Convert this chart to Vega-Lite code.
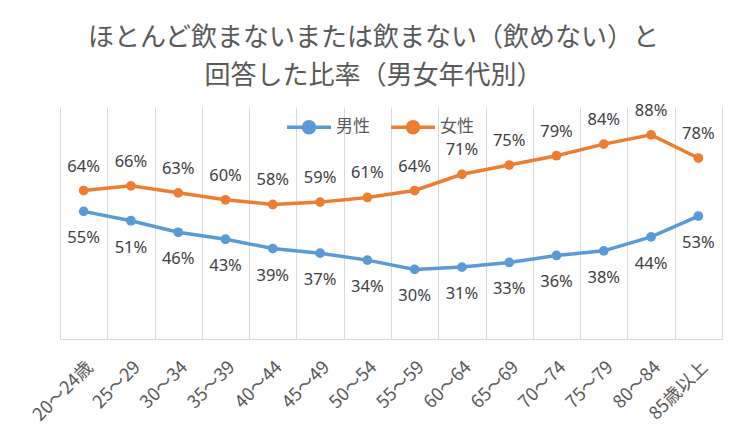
{
  "$schema": "https://vega.github.io/schema/vega-lite/v6.json",
  "width": 662,
  "height": 232,
  "autosize": {"type": "none"},
  "padding": {"left": 60, "top": 107, "right": 25, "bottom": 103},
  "background": "#ffffff",
  "config": {
    "view": {"stroke": null},
    "font": "Noto Sans CJK JP"
  },
  "title": {
    "text": ["ほとんど飲まないまたは飲まない（飲めない）と", "回答した比率（男女年代別）"],
    "font": "Noto Sans CJK JP",
    "fontSize": 26,
    "fontWeight": "normal",
    "color": "#595959",
    "anchor": "middle",
    "frame": "group",
    "dx": -17.5,
    "offset": 14,
    "lineHeight": 38
  },
  "data": {
    "values": [
      {"age": "20～24歳", "series": "男性", "rate": 0.55},
      {"age": "25～29", "series": "男性", "rate": 0.51},
      {"age": "30～34", "series": "男性", "rate": 0.46},
      {"age": "35～39", "series": "男性", "rate": 0.43},
      {"age": "40～44", "series": "男性", "rate": 0.39},
      {"age": "45～49", "series": "男性", "rate": 0.37},
      {"age": "50～54", "series": "男性", "rate": 0.34},
      {"age": "55～59", "series": "男性", "rate": 0.30},
      {"age": "60～64", "series": "男性", "rate": 0.31},
      {"age": "65～69", "series": "男性", "rate": 0.33},
      {"age": "70～74", "series": "男性", "rate": 0.36},
      {"age": "75～79", "series": "男性", "rate": 0.38},
      {"age": "80～84", "series": "男性", "rate": 0.44},
      {"age": "85歳以上", "series": "男性", "rate": 0.53},
      {"age": "20～24歳", "series": "女性", "rate": 0.64},
      {"age": "25～29", "series": "女性", "rate": 0.66},
      {"age": "30～34", "series": "女性", "rate": 0.63},
      {"age": "35～39", "series": "女性", "rate": 0.60},
      {"age": "40～44", "series": "女性", "rate": 0.58},
      {"age": "45～49", "series": "女性", "rate": 0.59},
      {"age": "50～54", "series": "女性", "rate": 0.61},
      {"age": "55～59", "series": "女性", "rate": 0.64},
      {"age": "60～64", "series": "女性", "rate": 0.71},
      {"age": "65～69", "series": "女性", "rate": 0.75},
      {"age": "70～74", "series": "女性", "rate": 0.79},
      {"age": "75～79", "series": "女性", "rate": 0.84},
      {"age": "80～84", "series": "女性", "rate": 0.88},
      {"age": "85歳以上", "series": "女性", "rate": 0.78}
    ]
  },
  "encoding": {
    "x": {
      "field": "age",
      "type": "nominal",
      "sort": null,
      "scale": {"type": "band", "paddingInner": 0, "paddingOuter": 0},
      "axis": {
        "title": null,
        "tickBand": "extent",
        "ticks": false,
        "grid": true,
        "gridColor": "#d9d9d9",
        "gridWidth": 1,
        "domainColor": "#d9d9d9",
        "domainWidth": 1,
        "labelAngle": -45,
        "labelAlign": "right",
        "labelBaseline": "top",
        "labelPadding": 19,
        "labelFont": "Noto Sans CJK JP",
        "labelFontSize": 18,
        "labelColor": "#595959"
      }
    },
    "y": {
      "field": "rate",
      "type": "quantitative",
      "scale": {"domain": [0, 1], "nice": false, "zero": true},
      "axis": null
    },
    "color": {
      "field": "series",
      "type": "nominal",
      "scale": {"domain": ["男性", "女性"], "range": ["#5B9BD5", "#ED7D31"]},
      "legend": {
        "title": null,
        "orient": "none",
        "direction": "horizontal",
        "legendX": 225,
        "legendY": -4,
        "padding": 0,
        "symbolType": "M-1,0L1,0M-0.25,0A0.25,0.25,0,1,1,0.25,0A0.25,0.25,0,1,1,-0.25,0Z",
        "symbolSize": 1936,
        "symbolStrokeWidth": 3.5,
        "labelFont": "Noto Sans CJK JP",
        "labelFontSize": 17,
        "labelColor": "#595959",
        "labelOffset": 3,
        "columnPadding": 14,
        "encode": {
          "symbols": {
            "update": {
              "fill": {"scale": "color", "field": "value"},
              "stroke": {"scale": "color", "field": "value"},
              "opacity": {"value": 1}
            }
          }
        }
      }
    }
  },
  "layer": [
    {"mark": {"type": "line", "strokeWidth": 3.5}},
    {"mark": {"type": "point", "filled": true, "size": 95, "opacity": 1}},
    {
      "transform": [{"filter": "datum.series === '女性'"}],
      "mark": {"type": "text", "dy": -24, "fontSize": 16.5, "font": "Noto Sans", "color": "#404040", "baseline": "middle"},
      "encoding": {
        "text": {"field": "rate", "type": "quantitative", "format": ".0%"},
        "color": {"value": "#404040"}
      }
    },
    {
      "transform": [{"filter": "datum.series === '男性'"}],
      "mark": {"type": "text", "dy": 27, "fontSize": 16.5, "font": "Noto Sans", "color": "#404040", "baseline": "middle"},
      "encoding": {
        "text": {"field": "rate", "type": "quantitative", "format": ".0%"},
        "color": {"value": "#404040"}
      }
    }
  ]
}
